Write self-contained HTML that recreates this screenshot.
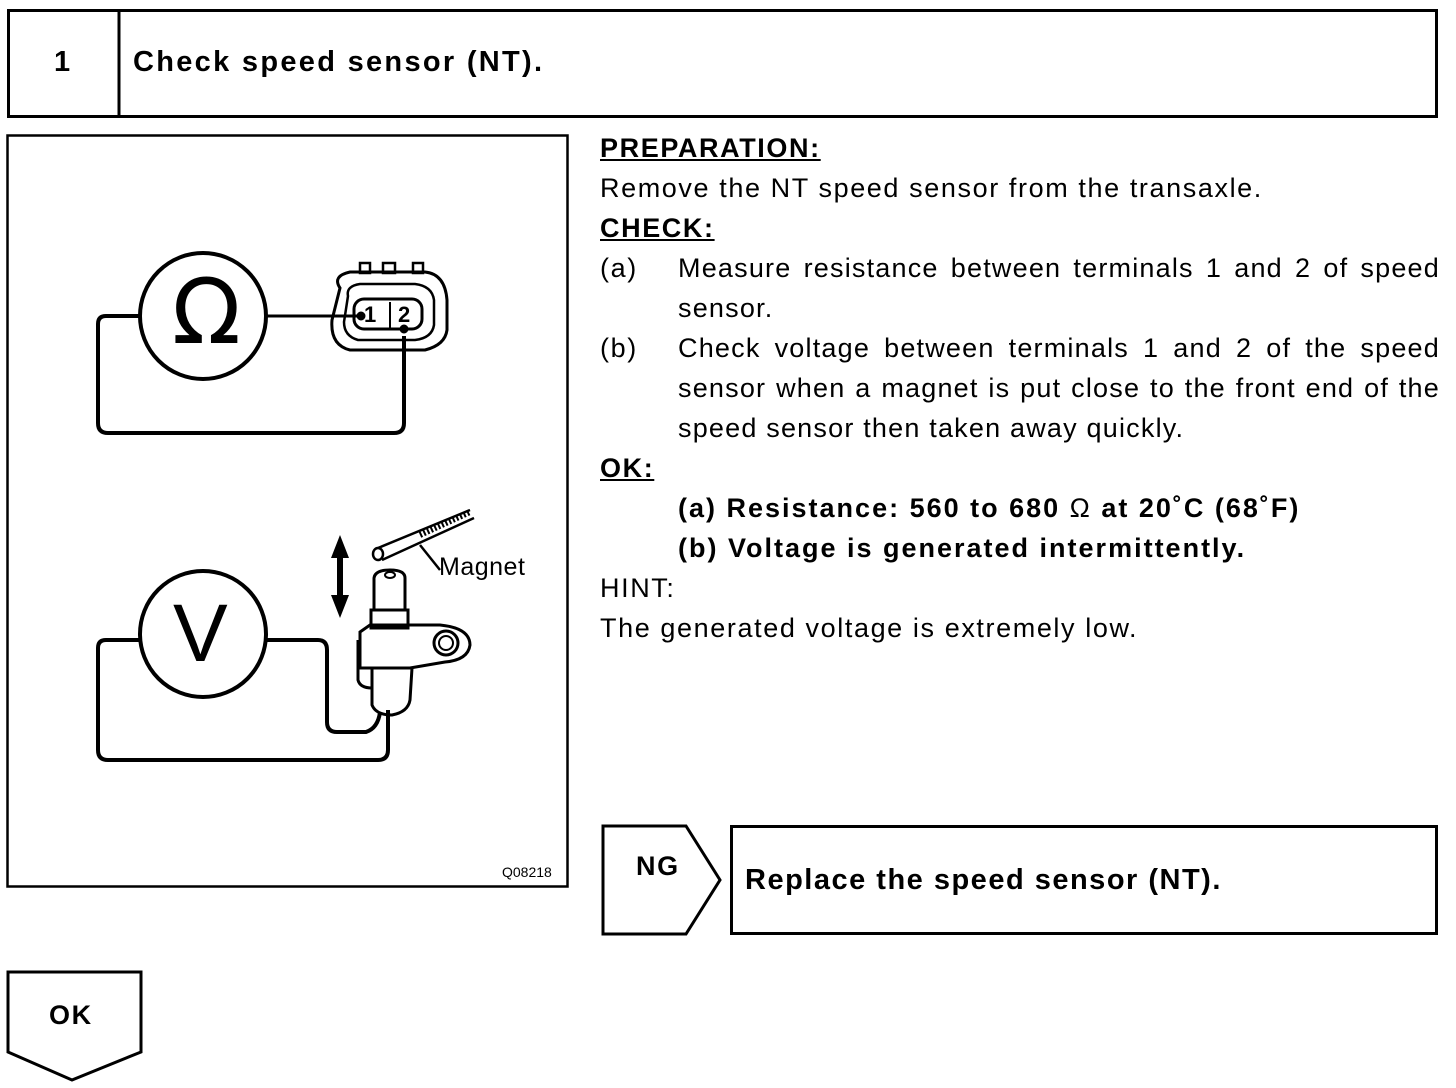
<!DOCTYPE html>
<html><head><meta charset="utf-8"><style>
body{margin:0;width:1456px;height:1088px;background:#fff;position:relative;overflow:hidden;font-family:"Liberation Sans",Arial,sans-serif;color:#000}
.t{position:absolute;font-size:27px;line-height:40px;white-space:nowrap;letter-spacing:1.6px}
.u{text-decoration:underline;font-weight:bold}
.j{position:absolute;left:678px;width:762px;font-size:27px;line-height:40px;text-align:justify;text-align-last:left;letter-spacing:1.2px}
b{font-weight:bold}
</style></head><body>
<svg width="1456" height="1088" style="position:absolute;left:0;top:0" fill="none" stroke="#000">
<rect x="8.5" y="10.5" width="1428" height="106" stroke-width="3"/>
<line x1="119" y1="10" x2="119" y2="117" stroke-width="3"/>
<rect x="7.5" y="135.5" width="560" height="751" stroke-width="2.5"/>
<polygon points="603,826 686,826 720,880 686,934 603,934" stroke-width="3"/>
<rect x="731.5" y="826.5" width="705" height="107" stroke-width="3"/>
<polygon points="8,972 141,972 141,1052 72,1080 8,1052" stroke-width="3"/>
<circle cx="203" cy="316" r="63" stroke-width="4"/>
<path d="M140,316 H106 Q98,316 98,324 V423 Q98,433 108,433 H394 Q404,433 404,423 V336" stroke-width="4"/>
<path d="M266,316 H360" stroke-width="3"/>
<path d="M340,288 Q332,276 350,272 H425 Q445,274 447,300 V330 Q445,345 425,350 H350 Q330,345 332,320 Z" stroke-width="3"/>
<path d="M348,296 Q346,286 360,284 H415 Q432,286 434,300 V325 Q432,338 415,340 H358 Q344,336 344,322 Z" stroke-width="2.5"/>
<rect x="354" y="299" width="68" height="30" rx="10" stroke-width="3"/>
<rect x="360" y="263" width="10" height="10" stroke-width="2.5"/><rect x="383" y="263" width="12" height="10" stroke-width="2.5"/><rect x="413" y="263" width="10" height="10" stroke-width="2.5"/>
<circle cx="361" cy="316" r="4" fill="#000"/><circle cx="404" cy="329" r="4" fill="#000"/>
<line x1="390" y1="302" x2="390" y2="330" stroke-width="2"/>
<circle cx="203" cy="634" r="63" stroke-width="4"/>
<path d="M140,640 H106 Q98,640 98,648 V750 Q98,760 108,760 H378 Q388,760 388,750 V710" stroke-width="4"/>
<path d="M266,640 H318 Q327,640 327,650 V722 Q327,732 337,732 H366 Q378,728 380,712" stroke-width="4"/>
<line x1="340" y1="555" x2="340" y2="600" stroke-width="6"/>
<polygon points="340,535 331,558 349,558" fill="#000" stroke="none"/>
<polygon points="340,618 331,595 349,595" fill="#000" stroke="none"/>
<path d="M378,548 L470,510 M382,560 L474,518" stroke-width="2.5"/>
<ellipse cx="378" cy="554" rx="5" ry="6" stroke-width="2.5"/>
<path d="M420,535 L470,512" stroke-width="6" stroke-dasharray="2 2"/>
<path d="M420,545 L440,570" stroke-width="2.5"/>
<path d="M374,578 Q375,570 390,570 Q405,570 405,578 V610 H374 Z" stroke-width="3"/>
<ellipse cx="390" cy="575" rx="5" ry="3" stroke-width="2"/>
<rect x="371" y="610" width="37" height="18" stroke-width="3"/>
<path d="M360,632 L370,625 H440 Q470,628 470,645 Q468,660 445,662 L410,668 H360 Z" stroke-width="3"/>
<circle cx="446" cy="643" r="12" stroke-width="3"/><circle cx="446" cy="643" r="7" stroke-width="2"/>
<path d="M358,640 V680 Q360,688 372,688" stroke-width="3"/>
<path d="M372,668 V705 Q376,715 392,715 Q408,712 410,700 L412,668" stroke-width="3"/>
</svg>
<div class="t" style="left:54px;top:42px;font-weight:bold;font-size:29px">1</div>
<div class="t" style="left:133px;top:42px;font-weight:bold;font-size:29px;letter-spacing:2.3px">Check speed sensor (NT).</div>
<div class="t" style="left:172px;top:268px;font-size:90px;line-height:90px;letter-spacing:0;font-family:'DejaVu Sans',sans-serif">Ω</div>
<div class="t" style="left:173px;top:593px;font-size:82px;line-height:82px;letter-spacing:0">V</div>
<div class="t" style="left:364px;top:303px;font-size:22px;line-height:24px;font-weight:bold;letter-spacing:0">1</div>
<div class="t" style="left:398px;top:303px;font-size:22px;line-height:24px;font-weight:bold;letter-spacing:0">2</div>
<div class="t" style="left:439px;top:547px;font-size:25px;letter-spacing:0.5px">Magnet</div>
<div class="t" style="left:502px;top:862px;font-size:14px;line-height:20px;letter-spacing:0">Q08218</div>
<div class="t u" style="left:600px;top:128px">PREPARATION:</div>
<div class="t" style="left:600px;top:168px">Remove the NT speed sensor from the transaxle.</div>
<div class="t u" style="left:600px;top:208px">CHECK:</div>
<div class="t" style="left:600px;top:248px">(a)</div>
<div class="j" style="top:248px">Measure resistance between terminals 1 and 2 of speed sensor.</div>
<div class="t" style="left:600px;top:328px">(b)</div>
<div class="j" style="top:328px">Check voltage between terminals 1 and 2 of the speed sensor when a magnet is put close to the front end of the speed sensor then taken away quickly.</div>
<div class="t u" style="left:600px;top:448px">OK:</div>
<div class="t" style="left:678px;top:488px;font-weight:bold;letter-spacing:2px">(a) Resistance: 560 to 680 <span style="font-weight:normal">Ω</span> at 20˚C (68˚F)</div>
<div class="t" style="left:678px;top:528px;font-weight:bold;letter-spacing:2px">(b) Voltage is generated intermittently.</div>
<div class="t" style="left:600px;top:568px">HINT:</div>
<div class="t" style="left:600px;top:608px">The generated voltage is extremely low.</div>
<div class="t" style="left:636px;top:846px;font-weight:bold">NG</div>
<div class="t" style="left:745px;top:860px;font-weight:bold;font-size:29px;letter-spacing:1.5px">Replace the speed sensor (NT).</div>
<div class="t" style="left:49px;top:995px;font-weight:bold">OK</div>
</body></html>
